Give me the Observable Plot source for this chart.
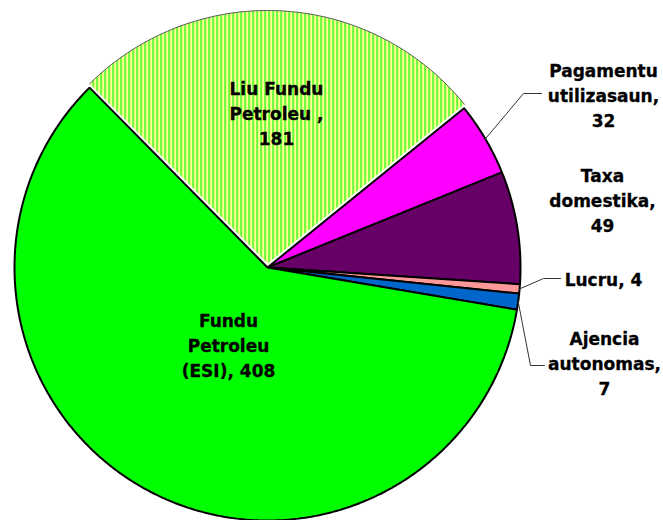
<!DOCTYPE html>
<html><head><meta charset="utf-8">
<script src="https://cdn.jsdelivr.net/npm/d3@7"></script>
<script src="https://cdn.jsdelivr.net/npm/@observablehq/plot@0.6"></script>
<style>body{margin:0;background:#fff}</style>
</head><body><div id="chart"></div>
<script>
// ---- data ----
const categories = ["Liu Fundu Petroleu", "Pagamentu utilizasaun", "Taxa domestika", "Lucru", "Ajencia autonomas", "Fundu Petroleu (ESI)"];
const values = [181, 32, 49, 4, 7, 408];
const labels = ["Liu Fundu\nPetroleu ,\n181", "Pagamentu\nutilizasaun,\n32", "Taxa\ndomestika,\n49", "Lucru, 4", "Ajencia\nautonomas,\n7", "Fundu\nPetroleu\n(ESI), 408"];
const colors = ["url(#hatch)", "#FF00FF", "#660066", "#FF9999", "#0066CC", "#00FF00"];

// ---- layout ----
const W = 663, H = 520, cx = 267, cy = 267, R = 253, startDeg = 315.3;
const explode = [4, 0, 0, 0, 0, 0];
const labelPos = [[276, 111], [603, 93], [602, 198], [603, 277], [604, 361], [228, 343]];
const leaderBends = {1: [[523, 93], [541, 93]], 3: [[543, 278], [560, 278]], 4: [[530, 365], [544, 365]]};

const total = d3.sum(values);
const rad = d => d * Math.PI / 180;
let acc = startDeg;
const slices = values.map((v, i) => {
  const a0 = acc, a1 = acc + v / total * 360; acc = a1;
  const mid = (a0 + a1) / 2;
  const ox = explode[i] * Math.sin(rad(mid)), oy = -explode[i] * Math.cos(rad(mid));
  return {i, name: categories[i], color: colors[i], a0, a1, mid, ox, oy};
});

const slicePts = [], arcPts = [];
for (const s of slices) {
  const ccx = cx + s.ox, ccy = cy + s.oy;
  slicePts.push({name: s.name, color: s.color, i: s.i, px: ccx, py: ccy});
  const n = Math.max(2, Math.ceil((s.a1 - s.a0) / 0.5));
  for (let k = 0; k <= n; k++) {
    const a = s.a0 + (s.a1 - s.a0) * k / n;
    const p = {name: s.name, color: s.color, i: s.i, px: ccx + R * Math.sin(rad(a)), py: ccy - R * Math.cos(rad(a))};
    slicePts.push(p);
    if (s.i === 0) arcPts.push(p);
  }
}

const leaderPts = [];
for (const k of Object.keys(leaderBends)) {
  const s = slices[+k];
  leaderPts.push({name: s.name, px: cx + R * Math.sin(rad(s.mid)), py: cy - R * Math.cos(rad(s.mid))});
  for (const [x, y] of leaderBends[k]) leaderPts.push({name: s.name, px: x, py: y});
}

const labelData = labels.map((t, i) => ({text: t, px: labelPos[i][0], py: labelPos[i][1]}));

const plot = Plot.plot({
  width: W, height: H, margin: 0,
  style: {background: "#fff"},
  x: {domain: [0, W], range: [0, W], axis: null},
  y: {domain: [0, H], range: [0, H], axis: null},
  color: {type: "identity"},
  marks: [
    Plot.line(slicePts.filter(d => d.i === 0), {x: "px", y: "py", z: "name", fill: "color", stroke: "none", curve: "linear-closed"}),
    Plot.line(arcPts, {x: "px", y: "py", stroke: "#555", strokeWidth: 1}),
    Plot.line(slicePts.filter(d => d.i !== 0), {x: "px", y: "py", z: "name", fill: "color", stroke: "#000", strokeWidth: 2, strokeLinejoin: "miter", curve: "linear-closed"}),
    Plot.line(leaderPts, {x: "px", y: "py", z: "name", stroke: "#333", strokeWidth: 1}),
    Plot.text(labelData, {x: "px", y: "py", text: "text", fontSize: 17, fontWeight: "bold", fontFamily: "Verdana, 'DejaVu Sans', sans-serif", lineHeight: 25 / 17, fill: "#000", stroke: "#000", strokeWidth: 0.3, textAnchor: "middle"})
  ]
});

const defs = d3.select(plot).insert("defs", ":first-child");
const pat = defs.append("pattern").attr("id", "hatch").attr("patternUnits", "userSpaceOnUse").attr("width", 4).attr("height", 4);
pat.append("rect").attr("width", 4).attr("height", 4).attr("fill", "#FFFF99");
pat.append("rect").attr("x", 1).attr("width", 1).attr("height", 4).attr("fill", "#CCFF66");
pat.append("rect").attr("width", 1).attr("height", 4).attr("fill", "#00FF00");

document.getElementById("chart").appendChild(plot);
</script>
</body></html>
